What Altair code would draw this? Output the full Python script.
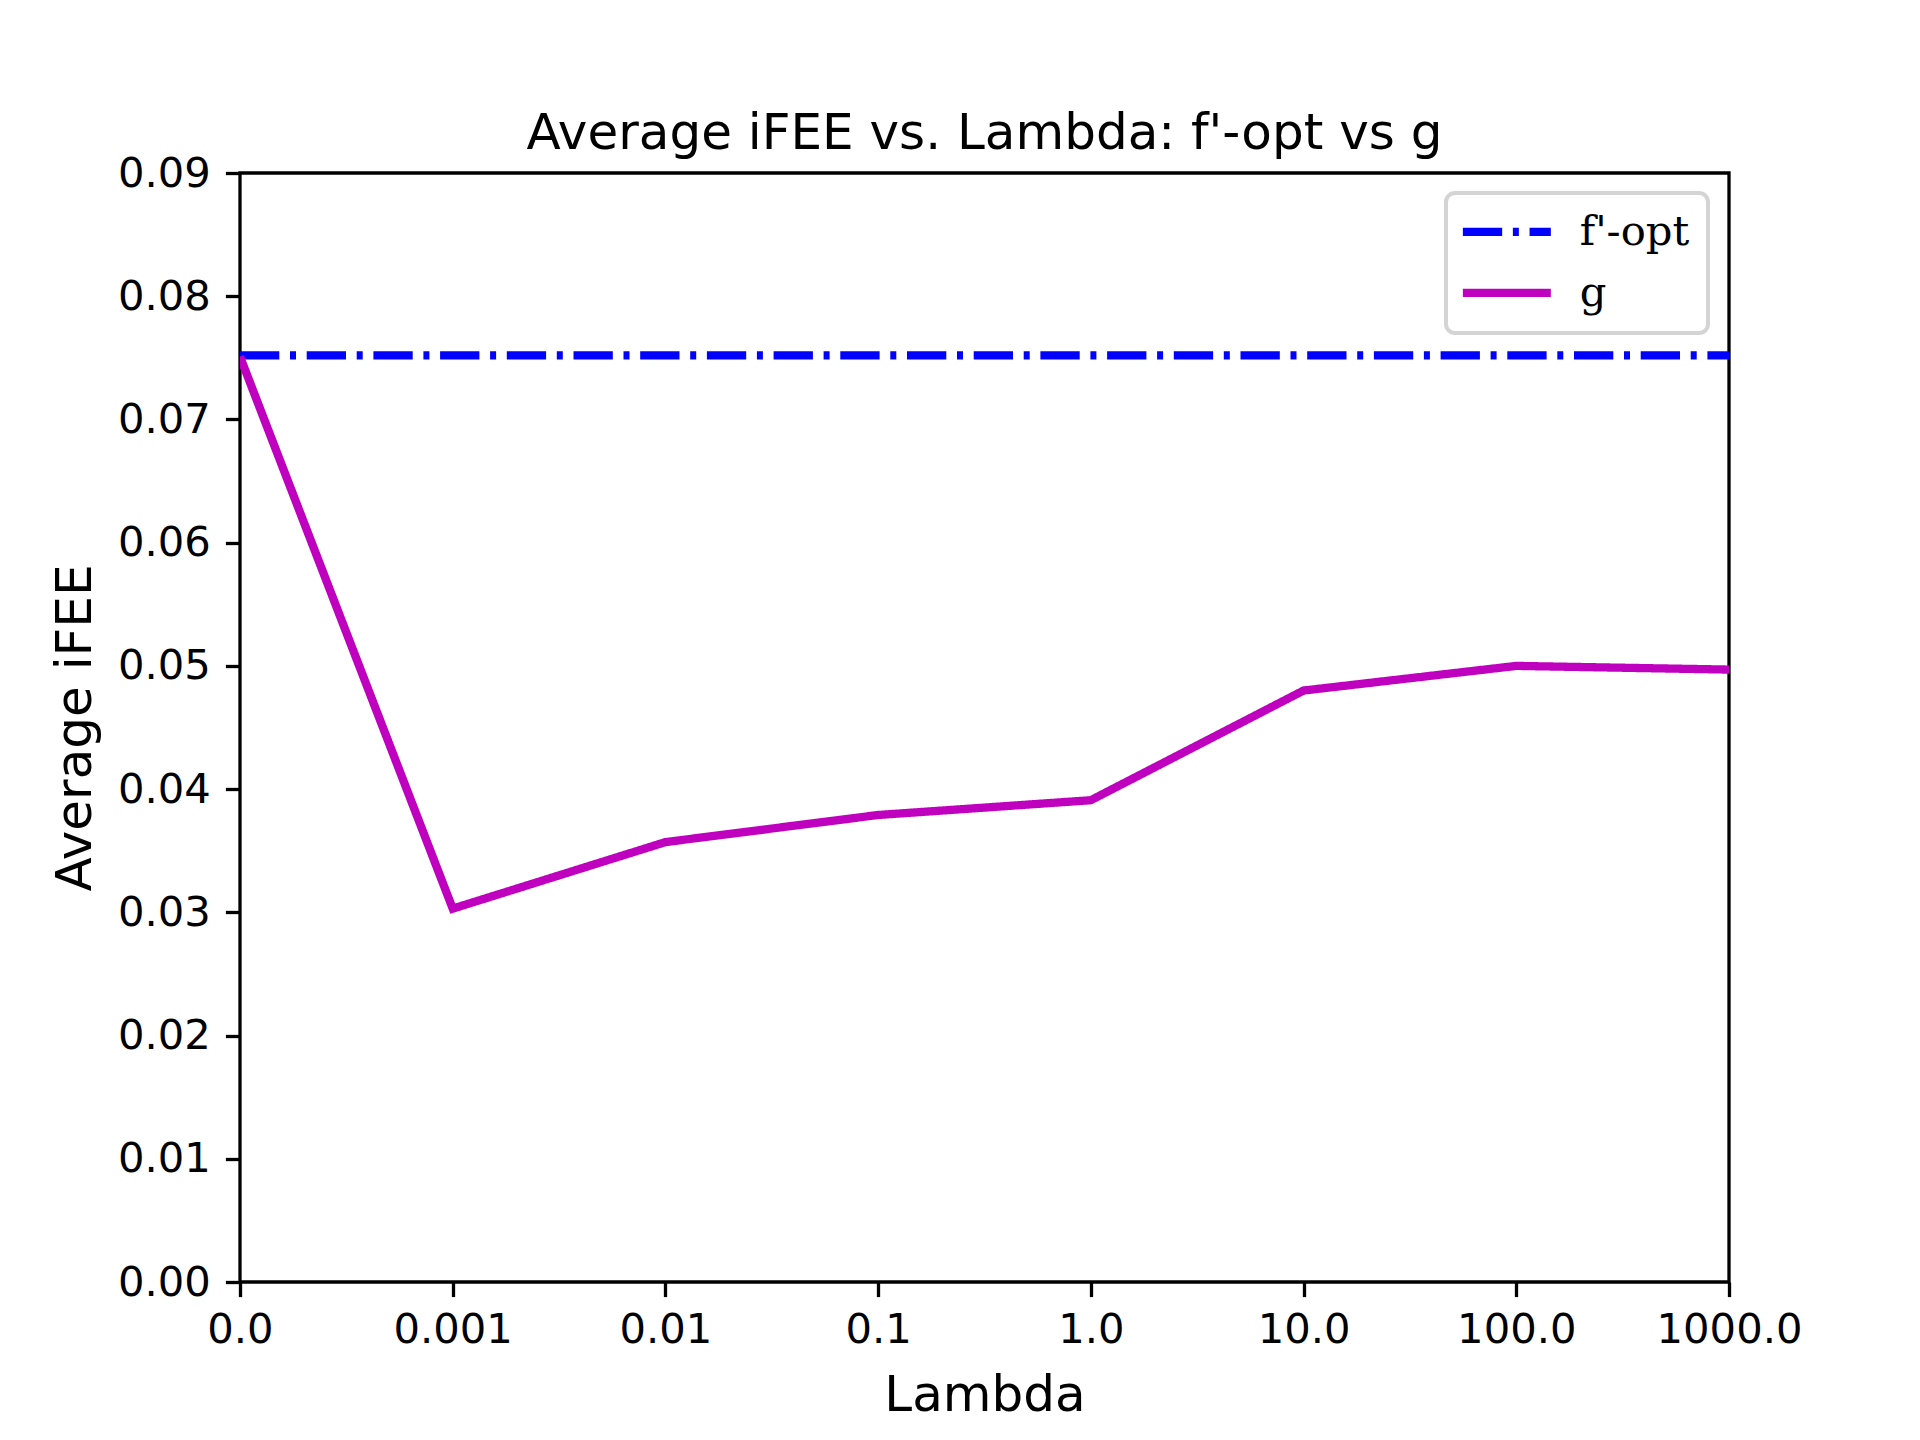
import altair as alt
import pandas as pd

# ---- data ----
lambdas = ["0.0", "0.001", "0.01", "0.1", "1.0", "10.0", "100.0", "1000.0"]
g_vals = [0.0751, 0.0303, 0.0357, 0.0379, 0.0391, 0.0480, 0.0500, 0.0497]
fopt_vals = [0.0752, 0.0752, 0.0752, 0.0752, 0.0752, 0.0752, 0.0752, 0.0752]
series_names = ["f'-opt", "g"]
series_colors = ["#0000ff", "#bf00bf"]
y_ticks = [0.0, 0.01, 0.02, 0.03, 0.04, 0.05, 0.06, 0.07, 0.08, 0.09]

rows = []
for lam, v in zip(lambdas, fopt_vals):
    rows.append({"lam": lam, "val": v, "series": series_names[0]})
for lam, v in zip(lambdas, g_vals):
    rows.append({"lam": lam, "val": v, "series": series_names[1]})
df = pd.DataFrame(rows)

W, H = 1489, 1109
FS = 41.7
LW = 8.3

legend = alt.Legend(
    title=None,
    orient="none",
    legendX=1206,
    legendY=20,
    padding=18,
    cornerRadius=9,
    fillColor="white",
    symbolType="M-3,0H3",
    symbolSize=860,
    symbolStrokeWidth=LW,
    symbolOffset=22,
    labelFont="DejaVu Serif",
    labelFontSize=FS,
    labelColor="black",
    labelOffset=52,
    rowPadding=18,
    labelLimit=400,
)

chart = (
    alt.Chart(df)
    .mark_line(strokeWidth=LW, strokeCap="butt", clip=True)
    .encode(
        x=alt.X(
            "lam:O",
            sort=lambdas,
            scale=alt.Scale(type="point", padding=0),
            axis=alt.Axis(
                title="Lambda",
                labelAngle=0,
                labelFont="DejaVu Sans",
                labelFontSize=FS,
                labelColor="black",
                labelPadding=13,
                labelFlush=False,
                labelOverlap=False,
                tickSize=14.6,
                tickWidth=3.3,
                tickColor="black",
                domain=False,
                grid=False,
                titleFont="DejaVu Sans",
                titleFontSize=50,
                titleFontWeight="normal",
                titleColor="black",
                titleX=W / 2,
                titleY=128,
                titleAlign="center",
                titleBaseline="alphabetic",
            ),
        ),
        y=alt.Y(
            "val:Q",
            scale=alt.Scale(domain=[0, 0.09], nice=False, zero=True),
            axis=alt.Axis(
                title="Average iFEE",
                values=y_ticks,
                format=".2f",
                labelFont="DejaVu Sans",
                labelFontSize=FS,
                labelColor="black",
                labelPadding=15,
                labelFlush=False,
                labelOverlap=False,
                tickSize=14.6,
                tickWidth=3.3,
                tickColor="black",
                domain=False,
                grid=False,
                titleFont="DejaVu Sans",
                titleFontSize=50,
                titleFontWeight="normal",
                titleColor="black",
                titleX=-150,
                titleY=H / 2,
                titleAngle=-90,
                titleAlign="center",
                titleBaseline="alphabetic",
            ),
        ),
        color=alt.Color(
            "series:N",
            scale=alt.Scale(domain=series_names, range=series_colors),
            legend=legend,
        ),
        strokeDash=alt.StrokeDash(
            "series:N",
            scale=alt.Scale(domain=series_names, range=[[39.3, 10.7, 6, 10.7], [1, 0]]),
            legend=legend,
        ),
    )
    .properties(
        width=W,
        height=H,
        title=alt.TitleParams(
            "Average iFEE vs. Lambda: f'-opt vs g",
            font="DejaVu Sans",
            fontSize=50,
            fontWeight="normal",
            color="black",
            frame="group",
            anchor="middle",
            offset=25,
            dy=71,
            baseline="alphabetic",
        ),
        autosize=alt.AutoSizeParams(type="none"),
        padding={"left": 232, "top": 165, "right": 170, "bottom": 150},
        background="white",
    )
    .configure_view(stroke="black", strokeWidth=3.3)
    .configure_legend(strokeColor="#d4d4d4", strokeWidth=4)
)

chart.save("out.html", embed_options={"renderer": "svg", "actions": False})
